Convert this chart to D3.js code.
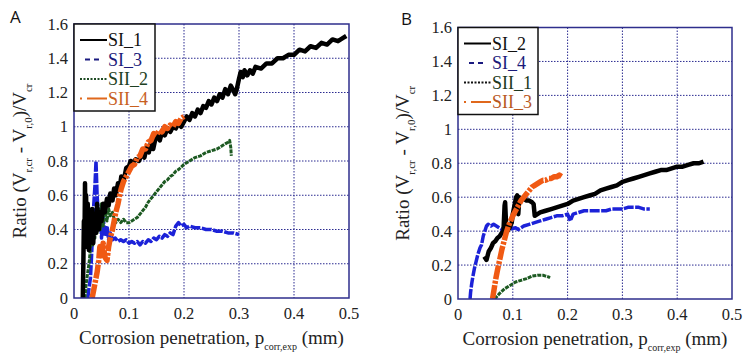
<!DOCTYPE html>
<html><head><meta charset="utf-8">
<script src="https://cdn.jsdelivr.net/npm/d3@7"></script>
<style>body{margin:0;background:#fff}</style>
</head><body><svg id="c" width="750" height="362"></svg>
<script>
const xTicks=[0,0.1,0.2,0.3,0.4,0.5];
const xTickLabels=["0","0.1","0.2","0.3","0.4","0.5"];
const yTicks=[0,0.2,0.4,0.6,0.8,1,1.2,1.4,1.6];
const yTickLabels=["0","0.2","0.4","0.6","0.8","1","1.2","1.4","1.6"];
const legendA=["SI_1","SI_3","SII_2","SII_4"];
const legendB=["SI_2","SI_4","SII_1","SII_3"];

const A_SI_1=[[0.016,0],[0.017,0.2],[0.018,0.45],[0.019,0.3],[0.02,0.67],[0.021,0.35],[0.022,0.6],[0.023,0.3],[0.025,0.55],[0.027,0.28],[0.029,0.5],[0.031,0.35],[0.033,0.52],[0.035,0.32],[0.037,0.47],[0.04,0.38],[0.042,0.55],[0.045,0.4],[0.048,0.5],[0.05,0.45],[0.053,0.55],[0.056,0.5],[0.06,0.58],[0.063,0.54],[0.066,0.61],[0.07,0.57],[0.073,0.64],[0.076,0.6],[0.08,0.67],[0.083,0.64],[0.086,0.71],[0.09,0.68],[0.095,0.76],[0.1,0.77],[0.103,0.8],[0.107,0.79],[0.112,0.81],[0.118,0.8],[0.122,0.83],[0.125,0.85],[0.128,0.82],[0.132,0.88],[0.136,0.85],[0.14,0.91],[0.144,0.87],[0.148,0.93],[0.152,0.95],[0.156,0.92],[0.16,0.97],[0.165,0.95],[0.17,0.99],[0.175,0.97],[0.18,1.0],[0.185,0.99],[0.19,1.02],[0.195,1.0],[0.2,1.03],[0.205,1.06],[0.21,1.04],[0.215,1.08],[0.22,1.06],[0.225,1.1],[0.23,1.08],[0.235,1.12],[0.24,1.11],[0.245,1.15],[0.25,1.13],[0.255,1.17],[0.26,1.15],[0.265,1.19],[0.27,1.17],[0.275,1.22],[0.28,1.19],[0.285,1.24],[0.29,1.21],[0.293,1.19],[0.296,1.22],[0.3,1.28],[0.303,1.32],[0.307,1.29],[0.31,1.33],[0.315,1.3],[0.32,1.33],[0.325,1.31],[0.33,1.35],[0.34,1.34],[0.35,1.37],[0.36,1.37],[0.37,1.4],[0.38,1.4],[0.39,1.42],[0.4,1.42],[0.41,1.45],[0.42,1.44],[0.43,1.47],[0.44,1.46],[0.45,1.49],[0.46,1.48],[0.47,1.51],[0.48,1.5],[0.49,1.52],[0.495,1.53]];
const A_SI_3=[[0.025,0],[0.027,0.05],[0.03,0.12],[0.032,0.25],[0.034,0.4],[0.036,0.55],[0.038,0.65],[0.04,0.8],[0.041,0.7],[0.042,0.6],[0.044,0.5],[0.046,0.4],[0.048,0.52],[0.05,0.35],[0.053,0.48],[0.056,0.36],[0.06,0.42],[0.063,0.34],[0.066,0.38],[0.07,0.34],[0.075,0.35],[0.08,0.33],[0.085,0.34],[0.09,0.33],[0.095,0.34],[0.1,0.32],[0.105,0.33],[0.11,0.32],[0.115,0.33],[0.12,0.31],[0.125,0.33],[0.13,0.32],[0.135,0.34],[0.14,0.33],[0.145,0.35],[0.15,0.34],[0.155,0.36],[0.16,0.35],[0.165,0.37],[0.17,0.36],[0.175,0.38],[0.18,0.37],[0.185,0.42],[0.19,0.44],[0.195,0.42],[0.2,0.43],[0.205,0.41],[0.21,0.42],[0.22,0.41],[0.23,0.41],[0.24,0.4],[0.25,0.4],[0.26,0.39],[0.27,0.39],[0.28,0.38],[0.29,0.38],[0.3,0.37]];
const A_SII_2=[[0.02,0],[0.022,0.08],[0.025,0.15],[0.028,0.22],[0.03,0.3],[0.032,0.38],[0.034,0.3],[0.036,0.45],[0.038,0.35],[0.04,0.5],[0.042,0.38],[0.045,0.52],[0.048,0.4],[0.05,0.55],[0.053,0.42],[0.056,0.5],[0.06,0.45],[0.063,0.52],[0.066,0.48],[0.07,0.5],[0.073,0.46],[0.076,0.44],[0.08,0.46],[0.085,0.44],[0.09,0.46],[0.095,0.44],[0.1,0.44],[0.105,0.45],[0.11,0.46],[0.115,0.47],[0.12,0.49],[0.125,0.51],[0.13,0.53],[0.135,0.56],[0.14,0.58],[0.145,0.6],[0.15,0.62],[0.155,0.64],[0.16,0.66],[0.165,0.68],[0.17,0.69],[0.175,0.71],[0.18,0.72],[0.185,0.74],[0.19,0.75],[0.2,0.78],[0.21,0.8],[0.22,0.82],[0.23,0.83],[0.24,0.85],[0.25,0.86],[0.26,0.87],[0.27,0.89],[0.275,0.9],[0.28,0.91],[0.283,0.92],[0.285,0.88],[0.286,0.83]];
const A_SII_4=[[0.033,0],[0.036,0.05],[0.039,0.1],[0.042,0.15],[0.045,0.22],[0.047,0.3],[0.05,0.25],[0.053,0.32],[0.056,0.24],[0.06,0.22],[0.063,0.3],[0.066,0.35],[0.07,0.4],[0.073,0.45],[0.076,0.5],[0.08,0.55],[0.083,0.6],[0.086,0.64],[0.09,0.68],[0.095,0.71],[0.1,0.74],[0.105,0.77],[0.11,0.78],[0.115,0.82],[0.12,0.83],[0.125,0.87],[0.13,0.87],[0.135,0.91],[0.14,0.92],[0.145,0.96],[0.15,0.95],[0.155,0.98],[0.16,0.97],[0.165,1.0],[0.17,0.99],[0.175,1.01],[0.18,1.0],[0.185,1.03],[0.19,1.02],[0.195,1.05],[0.2,1.06]];

const B_SI_2=[[0.048,0.25],[0.052,0.23],[0.056,0.28],[0.06,0.3],[0.064,0.33],[0.068,0.34],[0.072,0.36],[0.076,0.37],[0.08,0.39],[0.083,0.4],[0.085,0.55],[0.086,0.57],[0.088,0.42],[0.09,0.4],[0.094,0.42],[0.098,0.45],[0.1,0.5],[0.103,0.55],[0.106,0.6],[0.108,0.61],[0.11,0.5],[0.112,0.6],[0.116,0.59],[0.12,0.59],[0.125,0.58],[0.13,0.58],[0.135,0.57],[0.138,0.56],[0.14,0.49],[0.145,0.5],[0.15,0.51],[0.16,0.52],[0.17,0.53],[0.18,0.54],[0.19,0.55],[0.2,0.56],[0.21,0.58],[0.22,0.59],[0.23,0.6],[0.24,0.61],[0.25,0.62],[0.26,0.64],[0.27,0.65],[0.28,0.66],[0.29,0.67],[0.3,0.69],[0.31,0.7],[0.32,0.71],[0.33,0.72],[0.34,0.73],[0.35,0.74],[0.36,0.75],[0.37,0.76],[0.38,0.76],[0.39,0.77],[0.4,0.78],[0.41,0.78],[0.42,0.79],[0.43,0.8],[0.44,0.8],[0.448,0.81]];
const B_SI_4=[[0.022,0],[0.023,0.04],[0.025,0.09],[0.027,0.13],[0.03,0.18],[0.033,0.22],[0.036,0.26],[0.04,0.3],[0.043,0.32],[0.046,0.37],[0.049,0.4],[0.052,0.43],[0.055,0.44],[0.06,0.43],[0.065,0.44],[0.07,0.43],[0.075,0.42],[0.08,0.41],[0.083,0.4],[0.105,0.42],[0.11,0.41],[0.12,0.43],[0.13,0.44],[0.14,0.45],[0.15,0.46],[0.16,0.47],[0.17,0.48],[0.18,0.49],[0.19,0.49],[0.2,0.5],[0.205,0.46],[0.21,0.5],[0.22,0.51],[0.23,0.52],[0.24,0.52],[0.25,0.52],[0.26,0.52],[0.27,0.52],[0.28,0.53],[0.29,0.53],[0.3,0.53],[0.31,0.54],[0.32,0.54],[0.33,0.54],[0.34,0.53],[0.35,0.53]];
const B_SII_1=[[0.067,0],[0.075,0.03],[0.085,0.06],[0.095,0.08],[0.105,0.1],[0.115,0.11],[0.125,0.12],[0.135,0.135],[0.145,0.14],[0.155,0.14],[0.16,0.135],[0.165,0.13],[0.168,0.125]];
const B_SII_3=[[0.063,0],[0.066,0.06],[0.069,0.12],[0.072,0.17],[0.076,0.23],[0.08,0.29],[0.084,0.34],[0.088,0.39],[0.092,0.43],[0.096,0.46],[0.1,0.49],[0.105,0.52],[0.11,0.55],[0.115,0.58],[0.12,0.6],[0.125,0.62],[0.13,0.64],[0.135,0.66],[0.14,0.67],[0.145,0.68],[0.15,0.69],[0.155,0.7],[0.16,0.7],[0.165,0.71],[0.17,0.71],[0.175,0.72],[0.18,0.72],[0.185,0.73],[0.19,0.72]];

const styles=[
 {color:"#000000",w:4.5,dash:null,leg:"#000000",legDash:null,txt:"#111111"},
 {color:"#1c22d8",w:3.5,dash:"10,1.5",leg:"#1a1a80",legDash:"5,4",txt:"#1a1a7a"},
 {color:"#1d5a22",w:3,dash:"4,1",leg:"#1d4a22",legDash:"2,1.5",txt:"#1d4022"},
 {color:"#f05a14",w:5.5,dash:"14,1.5,3,1.5",leg:"#e0681c",legDash:"2,5,30",txt:"#c8601e"}
];

const svg=d3.select("#c");
const serif="Liberation Serif, Tinos, Times New Roman, Times, DejaVu Serif, Noto Serif, serif";

function panel(cfg){
  const g=svg.append("g");
  const x=d3.scaleLinear().domain([0,0.5]).range([cfg.l,cfg.r]);
  const y=d3.scaleLinear().domain([0,1.6]).range([cfg.b,cfg.t]);
  const cid="clip"+cfg.id;
  svg.append("clipPath").attr("id",cid).append("rect")
    .attr("x",cfg.l).attr("y",cfg.t).attr("width",cfg.r-cfg.l).attr("height",cfg.b-cfg.t);
  g.selectAll(".gx").data(xTicks.slice(1,-1)).enter().append("line")
    .attr("x1",d=>x(d)).attr("x2",d=>x(d)).attr("y1",cfg.t).attr("y2",cfg.b)
    .attr("stroke","#2b2b90").attr("stroke-width",1).attr("stroke-dasharray","1.5,1.5");
  g.selectAll(".gy").data(yTicks.slice(1,-1)).enter().append("line")
    .attr("y1",d=>y(d)).attr("y2",d=>y(d)).attr("x1",cfg.l).attr("x2",cfg.r)
    .attr("stroke","#2b2b90").attr("stroke-width",1).attr("stroke-dasharray","1.5,1.5");
  g.selectAll(".tx").data(xTicks).enter().append("text")
    .attr("x",d=>x(d)).attr("y",cfg.b+21).attr("text-anchor","middle")
    .style("font-family",serif).attr("font-size",16.5).attr("fill","#222")
    .text((d,i)=>xTickLabels[i]);
  g.selectAll(".ty").data(yTicks).enter().append("text")
    .attr("x",cfg.l-6).attr("y",d=>y(d)+5.5).attr("text-anchor","end")
    .style("font-family",serif).attr("font-size",16.5).attr("fill","#222")
    .text((d,i)=>yTickLabels[i]);
  const line=d3.line().x(d=>x(d[0])).y(d=>y(d[1]));
  const lg=g.append("g").attr("clip-path","url(#"+cid+")");
  cfg.series.forEach((s,i)=>{
    const st=styles[cfg.order[i]];
    lg.append("path").datum(s).attr("d",line).attr("fill","none")
      .attr("stroke",st.color).attr("stroke-width",st.w)
      .attr("stroke-linejoin","round")
      .attr("stroke-dasharray",st.dash);
  });
  g.append("rect").attr("x",cfg.l).attr("y",cfg.t).attr("width",cfg.r-cfg.l).attr("height",cfg.b-cfg.t)
    .attr("fill","none").attr("stroke","#2e2e8c").attr("stroke-width",1.5);
  const L=g.append("g");
  L.append("rect").attr("x",cfg.l).attr("y",cfg.t).attr("width",cfg.legW).attr("height",cfg.legH)
    .attr("fill","#fff").attr("stroke","#111").attr("stroke-width",1.5);
  cfg.legend.forEach((name,i)=>{
    const st=styles[i];
    const yy=cfg.t+16+i*19.5;
    const col=(cfg.legColors&&cfg.legColors[i])||st.leg;
    L.append("line").attr("x1",cfg.l+6).attr("x2",cfg.l+33).attr("y1",yy).attr("y2",yy)
      .attr("stroke",col).attr("stroke-width",2)
      .attr("stroke-dasharray",i===1?"0,5,5,4,5,4":st.legDash);
    L.append("text").attr("x",cfg.l+34).attr("y",yy+6).style("font-family",serif)
      .attr("font-size",18).attr("fill",(cfg.txtColors&&cfg.txtColors[i])||st.txt).text(name);
  });
  const xl=g.append("text").attr("x",(cfg.l+cfg.r)/2).attr("y",cfg.b+46).attr("text-anchor","middle")
    .style("font-family",serif).attr("font-size",19).attr("fill","#222");
  xl.append("tspan").text("Corrosion penetration, p");
  xl.append("tspan").attr("font-size",10).attr("dy",6).text("corr,exp");
  xl.append("tspan").attr("dy",-6).text(" (mm)");
  const cy=(cfg.t+cfg.b)/2;
  const yl=g.append("text").attr("transform",`translate(${cfg.ylx},${cy}) rotate(-90)`)
    .attr("text-anchor","middle").style("font-family",serif).attr("font-size",19).attr("fill","#222");
  yl.append("tspan").text("Ratio (V");
  yl.append("tspan").attr("font-size",11).attr("dy",6).text("r,cr");
  yl.append("tspan").attr("dy",-6).text(" - V");
  yl.append("tspan").attr("font-size",11).attr("dy",6).text("r,0");
  yl.append("tspan").attr("dy",-6).text(")/V");
  yl.append("tspan").attr("font-size",11).attr("dy",6).text("cr");
  g.append("text").attr("x",cfg.letX).attr("y",cfg.letY).style("font-family","Open Sans, Liberation Sans, sans-serif")
    .attr("font-size",17).attr("fill","#111").text(cfg.letter);
}

panel({id:"A",l:74,r:349,t:24,b:298,series:[A_SI_3,A_SII_2,A_SI_1,A_SII_4],order:[1,2,0,3],
  legend:legendA,legW:81,legH:87,ylx:26,letter:"A",letX:10,letY:23});
panel({id:"B",l:458,r:732,t:27.5,b:299,series:[B_SI_4,B_SII_1,B_SI_2,B_SII_3],order:[1,2,0,3],
  legend:legendB,legW:80,legH:87,ylx:409,letter:"B",letX:401,letY:25,
  legColors:[null,null,"#111111",null],txtColors:[null,null,"#203820","#b8581e"]});
</script></body></html>
